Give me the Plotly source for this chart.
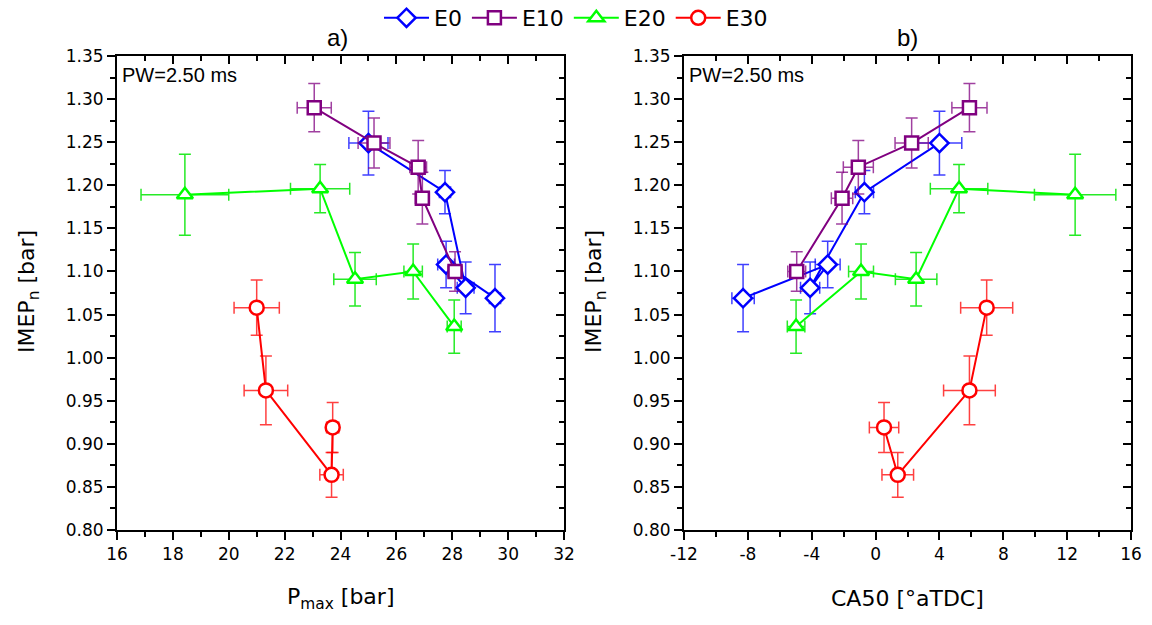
import plotly.graph_objects as go

# ---------------- data ----------------
series_names = ["E0", "E10", "E20", "E30"]

pmax_e0 = [29.53, 27.78, 28.48, 27.74, 25.0]
ca50_e0 = [-8.3, -3.0, -4.1, -0.7, 4.0]
imep_e0 = [1.069, 1.108, 1.081, 1.192, 1.249]
imep_err_e0 = [0.039, 0.027, 0.030, 0.025, 0.037]
pmax_err_e0 = [0.2, 0.3, 0.3, 0.2, 0.7]
ca50_err_e0 = [0.7, 0.78, 0.6, 0.57, 1.4]

pmax_e10 = [28.1, 26.93, 26.78, 25.2, 23.06]
ca50_e10 = [-4.94, -2.1, -1.08, 2.26, 5.88]
imep_e10 = [1.100, 1.185, 1.221, 1.249, 1.290]
imep_err_e10 = [0.023, 0.030, 0.031, 0.029, 0.028]
pmax_err_e10 = [0.25, 0.25, 0.3, 0.57, 0.61]
ca50_err_e10 = [0.56, 0.67, 0.94, 1.04, 1.1]

pmax_e20 = [18.43, 23.27, 24.52, 26.6, 28.07]
ca50_e20 = [12.5, 5.23, 2.54, -0.91, -4.98]
imep_e20 = [1.189, 1.196, 1.091, 1.100, 1.036]
imep_err_e20 = [0.047, 0.028, 0.031, 0.032, 0.031]
pmax_err_e20 = [1.57, 1.06, 0.76, 0.33, 0.25]
ca50_err_e20 = [2.55, 1.8, 1.3, 0.78, 0.55]

pmax_e30 = [21.0, 21.33, 23.68, 23.72]
ca50_e30 = [6.96, 5.88, 1.39, 0.53]
imep_e30 = [1.058, 0.962, 0.864, 0.919]
imep_err_e30 = [0.032, 0.040, 0.026, 0.029]
pmax_err_e30 = [0.81, 0.78, 0.42, 0.22]
ca50_err_e30 = [1.63, 1.62, 0.99, 0.92]

y_ticks = [0.80, 0.85, 0.90, 0.95, 1.00, 1.05, 1.10, 1.15, 1.20, 1.25, 1.30, 1.35]
x1_ticks = [16, 18, 20, 22, 24, 26, 28, 30, 32]
x2_ticks = [-12, -8, -4, 0, 4, 8, 12, 16]

# ---------------- styles ----------------
FONT = "Verdana, DejaVu Sans, sans-serif"
ARIAL = "Arial, Liberation Sans, sans-serif"
styles = {
    "E0": dict(color="#0000FF", err="rgba(0,0,255,0.75)", symbol="diamond", size=14),
    "E10": dict(color="#800080", err="rgba(128,0,128,0.75)", symbol="square", size=13),
    "E20": dict(color="#00FF00", err="rgba(0,230,0,0.85)", symbol="triangle-up", size=14),
    "E30": dict(color="#FF0000", err="rgba(255,0,0,0.75)", symbol="circle", size=14),
}
data = {
    "E0": (pmax_e0, ca50_e0, imep_e0, imep_err_e0, pmax_err_e0, ca50_err_e0),
    "E10": (pmax_e10, ca50_e10, imep_e10, imep_err_e10, pmax_err_e10, ca50_err_e10),
    "E20": (pmax_e20, ca50_e20, imep_e20, imep_err_e20, pmax_err_e20, ca50_err_e20),
    "E30": (pmax_e30, ca50_e30, imep_e30, imep_err_e30, pmax_err_e30, ca50_err_e30),
}

fig = go.Figure()

for name in series_names:
    pm, ca, im, ime, pme, cae = data[name]
    st = styles[name]
    marker = dict(symbol=st["symbol"], size=st["size"], color="white",
                  line=dict(color=st["color"], width=2.5))
    for xv, xe, xa, ya, leg in [(pm, pme, "x", "y", True), (ca, cae, "x2", "y2", False)]:
        fig.add_trace(go.Scatter(
            x=xv, y=im, mode="lines+markers", name=name, showlegend=leg,
            xaxis=xa, yaxis=ya,
            line=dict(color=st["color"], width=2),
            marker=marker,
            error_y=dict(type="data", array=ime, visible=True, color=st["err"],
                         thickness=1.5, width=6),
            error_x=dict(type="data", array=xe, visible=True, color=st["err"],
                         thickness=1.5, width=6),
        ))

# dummy traces for the inside-tick overlay axes
for xa, ya in [("x3", "y3"), ("x4", "y4")]:
    fig.add_trace(go.Scatter(x=[None], y=[None], xaxis=xa, yaxis=ya,
                             showlegend=False, hoverinfo="skip"))

W, H = 1152, 625
dom_x1 = [117 / W, 564 / W]
dom_x2 = [684 / W, 1131 / W]
dom_y = [1 - 530 / H, 1 - 56 / H]
yr = [0.80, 1.35]
x1r = [16, 32]
x2r = [-12, 16]

tickfont = dict(family=FONT, size=17, color="black")


def main_x(dom, rng, ticks, minor_dt, anchor):
    return dict(domain=dom, range=rng, anchor=anchor, tickmode="array", tickvals=ticks,
                ticktext=[str(t) for t in ticks], automargin=False,
                ticks="outside", ticklen=8, tickwidth=1.5, tickcolor="black",
                minor=dict(ticks="outside", ticklen=5, tickwidth=1.5, tickcolor="black",
                           dtick=minor_dt, tick0=rng[0]),
                showline=True, linecolor="black", linewidth=2, mirror=True,
                showgrid=False, zeroline=False, tickfont=tickfont)


def main_y(anchor):
    return dict(domain=dom_y, range=yr, anchor=anchor, tickmode="array", tickvals=y_ticks,
                ticktext=[f"{v:.2f}" for v in y_ticks], automargin=False,
                ticks="outside", ticklen=8, tickwidth=1.5, tickcolor="black",
                minor=dict(ticks="outside", ticklen=5, tickwidth=1.5, tickcolor="black",
                           dtick=0.025, tick0=0.80),
                showline=True, linecolor="black", linewidth=2, mirror=True,
                showgrid=False, zeroline=False, tickfont=tickfont)


def over_x(over, rng, ticks, minor_dt, anchor):
    return dict(overlaying=over, side="top", range=rng, anchor=anchor, automargin=False,
                tickmode="array", tickvals=ticks, showticklabels=False,
                ticks="inside", ticklen=8, tickwidth=1.5, tickcolor="black",
                minor=dict(ticks="inside", ticklen=5, tickwidth=1.5, tickcolor="black",
                           dtick=minor_dt, tick0=rng[0]),
                showline=False, showgrid=False, zeroline=False)


def over_y(over, anchor):
    return dict(overlaying=over, side="right", range=yr, anchor=anchor, automargin=False,
                tickmode="array", tickvals=y_ticks, showticklabels=False,
                ticks="inside", ticklen=8, tickwidth=1.5, tickcolor="black",
                minor=dict(ticks="inside", ticklen=5, tickwidth=1.5, tickcolor="black",
                           dtick=0.025, tick0=0.80),
                showline=False, showgrid=False, zeroline=False)


fig.update_layout(
    width=W, height=H,
    margin=dict(l=0, r=0, t=0, b=0, autoexpand=False),
    paper_bgcolor="white", plot_bgcolor="white",
    font=dict(family=FONT, color="black"),
    xaxis=main_x(dom_x1, x1r, x1_ticks, 1, "y"),
    yaxis=main_y("x"),
    xaxis2=main_x(dom_x2, x2r, x2_ticks, 2, "y2"),
    yaxis2=main_y("x2"),
    xaxis3=over_x("x", x1r, x1_ticks, 1, "y"),
    yaxis3=over_y("y", "x"),
    xaxis4=over_x("x2", x2r, x2_ticks, 2, "y2"),
    yaxis4=over_y("y2", "x2"),
    legend=dict(orientation="h", x=0.5, xanchor="center", y=1 - 18 / H, yanchor="middle",
                font=dict(family=FONT, size=22, color="black"), bgcolor="rgba(0,0,0,0)",
                itemwidth=45, tracegroupgap=0),
    showlegend=True,
)

ann = [
    dict(text="a)", x=337 / W, y=1 - 38 / H, font=dict(family=ARIAL, size=24)),
    dict(text="b)", x=907 / W, y=1 - 38 / H, font=dict(family=ARIAL, size=24)),
    dict(text="PW=2.50 ms", x=120 / W, y=1 - 75 / H, xanchor="left", font=dict(family=ARIAL, size=20)),
    dict(text="PW=2.50 ms", x=687 / W, y=1 - 75 / H, xanchor="left", font=dict(family=ARIAL, size=20)),
    dict(text="P<sub>max</sub> [bar]", x=340 / W, y=1 - 598 / H, font=dict(family=FONT, size=22)),
    dict(text="CA50 [°aTDC]", x=907 / W, y=1 - 598 / H, font=dict(family=FONT, size=22)),
    dict(text="IMEP<sub>n</sub> [bar]", x=28 / W, y=1 - 292 / H, textangle=-90, font=dict(family=FONT, size=22)),
    dict(text="IMEP<sub>n</sub> [bar]", x=595 / W, y=1 - 292 / H, textangle=-90, font=dict(family=FONT, size=22)),
]
for a in ann:
    a.setdefault("xanchor", "center")
    a.update(xref="paper", yref="paper", showarrow=False, yanchor="middle")
    a["font"].update(color="black")
fig.update_layout(annotations=ann)

fig.write_html("out.html")
